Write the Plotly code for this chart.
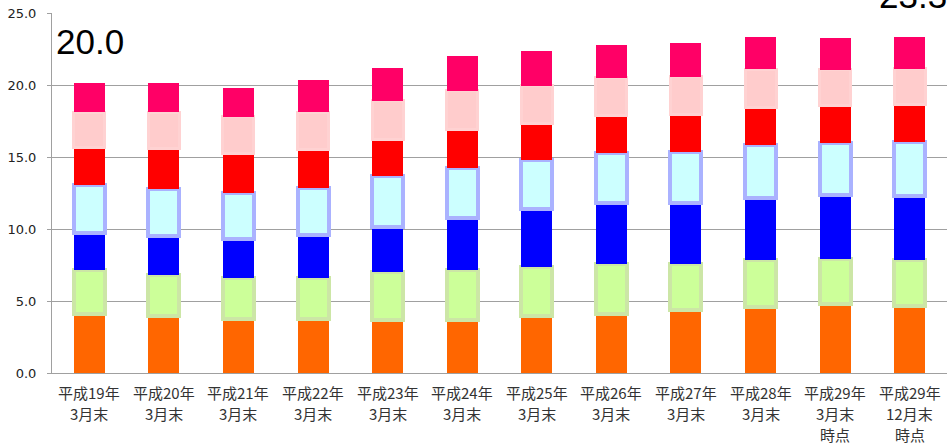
import plotly.graph_objects as go

categories = [
    "平成19年<br>3月末", "平成20年<br>3月末", "平成21年<br>3月末", "平成22年<br>3月末",
    "平成23年<br>3月末", "平成24年<br>3月末", "平成25年<br>3月末", "平成26年<br>3月末",
    "平成27年<br>3月末", "平成28年<br>3月末", "平成29年<br>3月末<br>時点", "平成29年<br>12月末<br>時点",
]

s1_orange = [4.13, 3.94, 3.73, 3.73, 3.71, 3.66, 3.94, 4.13, 4.36, 4.59, 4.78, 4.64]
s2_green = [3.01, 2.90, 2.90, 2.90, 3.27, 3.48, 3.43, 3.41, 3.24, 3.25, 3.17, 3.20]
s3_blue = [2.55, 2.66, 2.67, 2.95, 3.17, 3.59, 4.01, 4.24, 4.18, 4.33, 4.41, 4.47]
s4_cyan = [3.36, 3.25, 3.17, 3.29, 3.53, 3.53, 3.41, 3.48, 3.59, 3.66, 3.63, 3.75]
s5_red = [2.62, 2.81, 2.78, 2.62, 2.57, 2.62, 2.55, 2.59, 2.60, 2.60, 2.61, 2.60]
s6_pink = [2.43, 2.54, 2.55, 2.61, 2.65, 2.72, 2.62, 2.65, 2.61, 2.67, 2.45, 2.46]
s7_magenta = [2.02, 2.02, 2.02, 2.25, 2.30, 2.42, 2.43, 2.29, 2.32, 2.22, 2.18, 2.20]

y_ticks = [0, 5, 10, 15, 20, 25]
y_tick_text = ["0.0", "5.0", "10.0", "15.0", "20.0", "25.0"]
note_left = "20.0"
note_right = "23.3"

series = [
    ("系列1", s1_orange, "#ff6600", "#ff6600", 0),
    ("系列2", s2_green, "#ccff99", "#cce6a6", 4),
    ("系列3", s3_blue, "#0000ff", "#0000ff", 0),
    ("系列4", s4_cyan, "#ccffff", "#aab2ff", 4),
    ("系列5", s5_red, "#ff0000", "#ff0000", 0),
    ("系列6", s6_pink, "#ffcccc", "#ffd2d2", 3),
    ("系列7", s7_magenta, "#ff0066", "#ff0066", 0),
]

fig = go.Figure()
for name, vals, fill, border, lw in series:
    fig.add_trace(go.Bar(
        x=categories, y=vals, name=name,
        marker=dict(color=fill, line=dict(color=border, width=lw)),
    ))

fig.update_layout(
    barmode="stack",
    bargap=0.585,
    width=947, height=444,
    margin=dict(l=52, r=0, t=13, b=71),
    paper_bgcolor="white",
    plot_bgcolor="white",
    showlegend=False,
    font=dict(family="DejaVu Sans", size=13, color="#222222"),
)

fig.update_yaxes(
    range=[0, 25],
    tickvals=y_ticks, ticktext=y_tick_text,
    showgrid=True, gridcolor="#a0a0a0", gridwidth=1,
    showline=True, linecolor="#a0a0a0", linewidth=1,
    ticks="outside", ticklen=4, tickcolor="#a0a0a0",
    tickfont=dict(family="DejaVu Sans", size=13, color="#222222"),
    ticklabelstandoff=8,
    zeroline=False,
    automargin=False,
)
fig.update_xaxes(
    showline=True, linecolor="#a0a0a0", linewidth=1,
    ticks="", showticklabels=False,
    automargin=False,
)

# category labels, one text per line, with the wider line spacing of the reference
line_offsets = [-19.5, -40.5, -61.5]
for cat in categories:
    for i, part in enumerate(cat.split("<br>")):
        fig.add_annotation(
            text=part, x=cat, xref="x", y=0, yref="paper",
            yanchor="middle", xanchor="center", yshift=line_offsets[i],
            showarrow=False,
            font=dict(family="Noto Sans CJK JP", size=15, color="#333333"),
        )

fig.add_annotation(
    text=note_left, xref="paper", yref="paper", x=0.002, y=0.92,
    xanchor="left", yanchor="middle", showarrow=False,
    font=dict(family="Liberation Sans", size=35, color="#000000"),
)
fig.add_annotation(
    text=note_right, xref="paper", yref="paper", x=0.922, y=1.048,
    xanchor="left", yanchor="middle", showarrow=False,
    font=dict(family="Liberation Sans", size=35, color="#000000"),
)

fig.write_html("out.html")
